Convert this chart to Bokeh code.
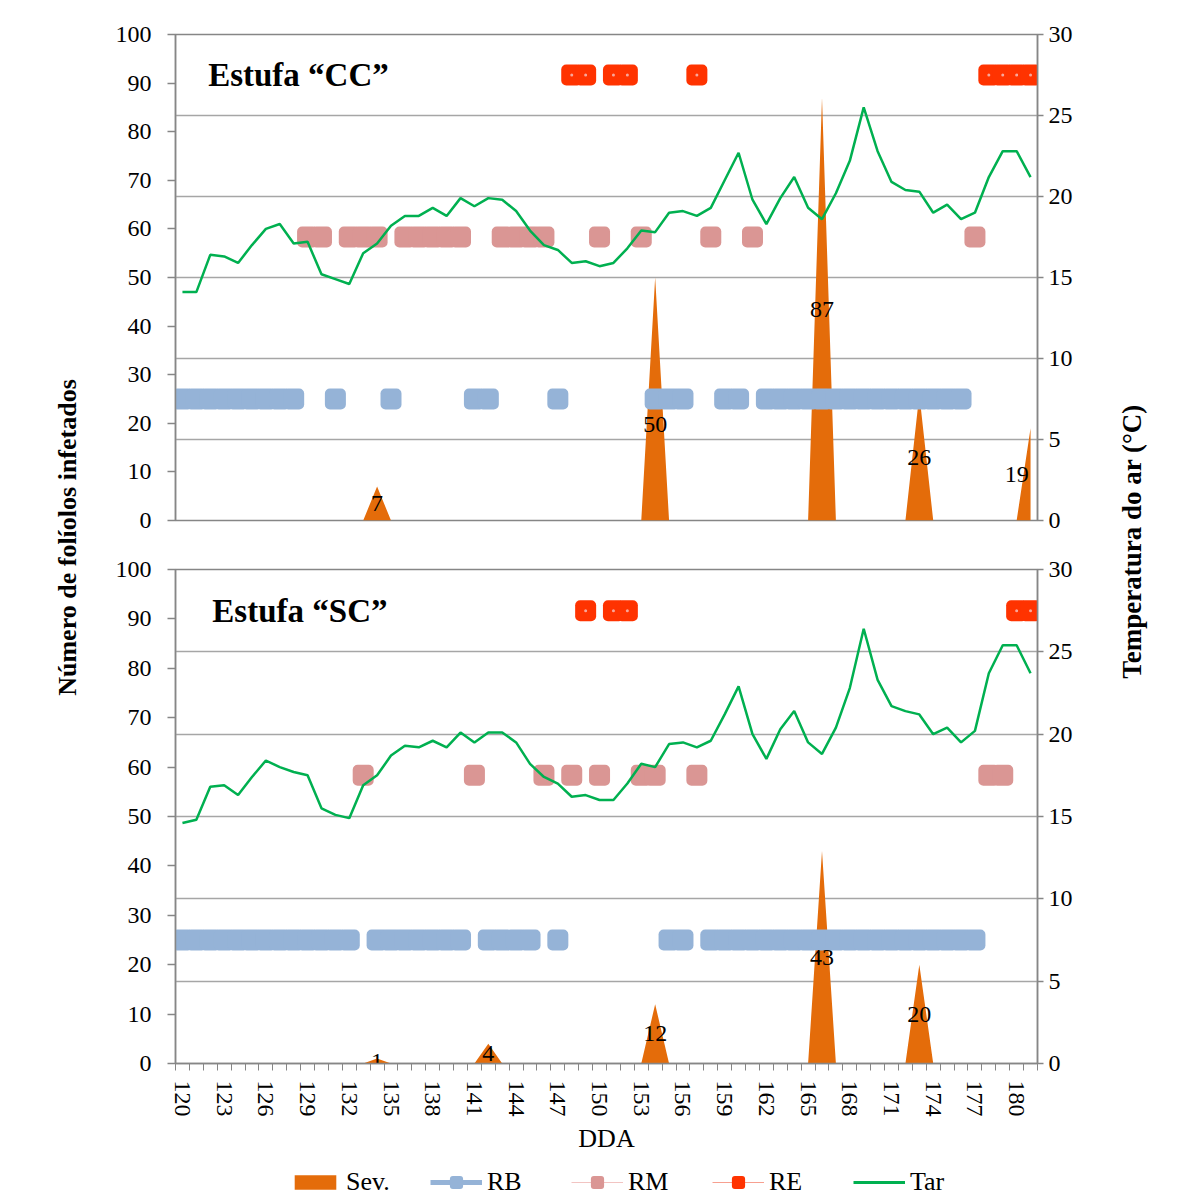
import math
from bokeh.plotting import figure
from bokeh.models import Range1d, LinearAxis, FixedTicker, Grid, Label, Legend, LegendItem
from bokeh.models.glyphs import Rect
from bokeh.layouts import row, column
from bokeh.embed import file_html
from bokeh.resources import INLINE
from bokeh.core.properties import value

# ---------------- data ----------------
days = list(range(120, 182))
tick_days = list(range(120, 181, 3))

cc_tar = [14.1, 14.1, 16.4, 16.3, 15.9, 17.0, 18.0, 18.3, 17.1, 17.2,
          15.2, 14.9, 14.6, 16.5, 17.1, 18.2, 18.8, 18.8, 19.3, 18.8,
          19.9, 19.4, 19.9, 19.8, 19.1, 17.9, 17.0, 16.7, 15.9, 16.0,
          15.7, 15.9, 16.8, 17.9, 17.8, 19.0, 19.1, 18.8, 19.3, 21.0,
          22.7, 19.8, 18.3, 19.9, 21.2, 19.3, 18.6, 20.2, 22.2, 25.5,
          22.8, 20.9, 20.4, 20.3, 19.0, 19.5, 18.6, 19.0, 21.2, 22.8,
          22.8, 21.2]
sc_tar = [14.6, 14.8, 16.8, 16.9, 16.3, 17.4, 18.4, 18.0, 17.7, 17.5,
          15.5, 15.1, 14.9, 16.9, 17.5, 18.7, 19.3, 19.2, 19.6, 19.2,
          20.1, 19.5, 20.1, 20.1, 19.5, 18.2, 17.4, 17.0, 16.2, 16.3,
          16.0, 16.0, 17.0, 18.2, 18.0, 19.4, 19.5, 19.2, 19.6, 21.2,
          22.9, 20.0, 18.5, 20.3, 21.4, 19.5, 18.8, 20.4, 22.8, 26.4,
          23.3, 21.7, 21.4, 21.2, 20.0, 20.4, 19.5, 20.2, 23.7, 25.4,
          25.4, 23.7]

cc_sev_days = [134, 154, 166, 173, 181]
cc_sev_vals = [7, 50, 87, 26, 19]
sc_sev_days = [134, 142, 154, 166, 173]
sc_sev_vals = [1, 4, 12, 43, 20]

cc_rb_days = list(range(120, 129)) + [131, 135, 141, 142, 147, 154, 155, 156, 159, 160] + list(range(162, 177))
cc_rm_days = [129, 130, 132, 133, 134, 136, 137, 138, 139, 140, 143, 144, 145, 146, 150, 153, 158, 161, 177]
cc_re_days = [148, 149, 151, 152, 157, 178, 179, 180, 181]

sc_rb_days = list(range(120, 133)) + list(range(134, 141)) + [142, 143, 144, 145, 147, 155, 156] + list(range(158, 178))
sc_rm_days = [133, 141, 146, 148, 150, 153, 154, 157, 178, 179]
sc_re_days = [149, 151, 152, 180, 181]

# class levels on the temperature axis
rb_level = 7.5
rm_level = 17.5
re_level = 27.5

# ---------------- styles ----------------
SERIF = "Liberation Serif"
C_SEV = "#E46C0A"
C_RB = "#95B3D7"
C_RM = "#DA9694"
C_RE = "#FF3300"
C_RE_DOT = "#F8A79A"
C_TAR = "#00B050"
C_AX = "#868686"
C_GRID = "#A6A6A6"

FW = 862
ML, MR = 75, 50
HAS_RADIUS = "border_radius" in Rect.properties()


def style_yaxis(ax, standoff):
    ax.axis_line_color = C_AX
    ax.axis_line_width = 1.5
    ax.major_tick_line_color = C_AX
    ax.major_tick_line_width = 1.5
    ax.major_tick_out = 8
    ax.major_tick_in = 0
    ax.minor_tick_line_color = None
    ax.major_label_text_font = SERIF
    ax.major_label_text_font_size = "24px"
    ax.major_label_text_color = "black"
    ax.major_label_standoff = standoff


def rounded_marks(p, ds, level, color, range_name="t"):
    ys = [level] * len(ds)
    if HAS_RADIUS:
        p.rect(x=ds, y=ys, width=21, height=21, width_units="screen", height_units="screen",
               y_range_name=range_name, fill_color=color, line_color=None, border_radius=5)
    else:
        p.scatter(x=ds, y=ys, y_range_name=range_name, marker="square", size=13,
                  fill_color=color, line_color=color, line_width=8, line_join="round")


def panel(tar, sev_days, sev_vals, rb, rm, re_, title, title_x, label_pos, bottom):
    fh = 494 if bottom else 486
    p = figure(frame_width=FW, frame_height=fh,
               x_range=Range1d(119.5, 181.5), y_range=Range1d(0, 100),
               min_border_left=ML, min_border_right=MR,
               min_border_top=24 if bottom else 34,
               min_border_bottom=96 if bottom else 25,
               x_axis_location="below" if bottom else None,
               y_axis_location="left",
               title=None, output_backend="svg", toolbar_location=None,
               outline_line_color=C_AX, outline_line_width=1.5,
               background_fill_color="white", border_fill_color="white")
    p.xgrid.visible = False
    p.ygrid.visible = False
    p.yaxis.ticker = FixedTicker(ticks=list(range(0, 101, 10)))
    style_yaxis(p.yaxis[0], 16)

    p.extra_y_ranges = {"t": Range1d(0, 30)}
    ax_r = LinearAxis(y_range_name="t", ticker=FixedTicker(ticks=list(range(0, 31, 5))))
    style_yaxis(ax_r, 5)
    ax_r.major_tick_out = 6
    p.add_layout(ax_r, "right")

    g = Grid(dimension=1, y_range_name="t", ticker=FixedTicker(ticks=[5, 10, 15, 20, 25, 30]),
             grid_line_color=C_GRID, grid_line_width=1.5)
    p.add_layout(g)

    if bottom:
        xa = p.xaxis[0]
        xa.ticker = FixedTicker(ticks=tick_days, minor_ticks=[d - 0.5 for d in days] + [181.5])
        xa.axis_line_color = C_AX
        xa.axis_line_width = 1.5
        xa.major_tick_out = 0
        xa.major_tick_in = 0
        xa.minor_tick_out = 7
        xa.minor_tick_in = 0
        xa.minor_tick_line_color = C_AX
        xa.minor_tick_line_width = 1
        xa.major_label_orientation = "vertical"
        xa.major_label_text_font = SERIF
        xa.major_label_text_font_size = "24px"
        xa.major_label_text_color = "black"
        xa.major_label_standoff = 10
        xa.axis_label = "DDA"
        xa.axis_label_text_font = SERIF
        xa.axis_label_text_font_size = "26px"
        xa.axis_label_text_font_style = "normal"
        xa.axis_label_text_color = "black"
        xa.axis_label_standoff = 4

    # severity area
    sev_map = dict(zip(sev_days, sev_vals))
    sev_full = [sev_map.get(d, 0) for d in days]
    p.varea(x=days, y1=[0] * len(days), y2=sev_full, fill_color=C_SEV, fill_alpha=1)

    # class markers
    rounded_marks(p, rb, rb_level, C_RB)
    rounded_marks(p, rm, rm_level, C_RM)
    rounded_marks(p, re_, re_level, C_RE)
    p.scatter(x=re_, y=[re_level] * len(re_), y_range_name="t", marker="circle", size=3,
              fill_color=C_RE_DOT, line_color=None)

    # temperature
    p.line(x=days, y=tar, y_range_name="t", line_color=C_TAR, line_width=2.5)

    # data labels
    lx, ly = [], []
    for d, v in zip(sev_days, sev_vals):
        x, y = label_pos.get(d, (d, v / 2))
        lx.append(x)
        ly.append(y)
    p.text(x=lx, y=ly, text=[str(v) for v in sev_vals], text_font=value(SERIF),
           text_font_size="24px", text_color="black", text_align="center", text_baseline="middle")

    p.add_layout(Label(x=title_x, y=91.6, text=title, text_font=SERIF, text_font_style="bold",
                       text_font_size="33px", text_color="black", text_baseline="middle",
                       text_align="left"))
    return p


top = panel(cc_tar, cc_sev_days, cc_sev_vals, cc_rb_days, cc_rm_days, cc_re_days,
            "Estufa \u201cCC\u201d", 121.85, {154: (154, 19.7), 181: (180.0, 9.5)}, False)
bot = panel(sc_tar, sc_sev_days, sc_sev_vals, sc_rb_days, sc_rm_days, sc_re_days,
            "Estufa \u201cSC\u201d", 122.15, {}, True)

# ---------------- legend strip ----------------
LH = 36
lf = figure(frame_width=FW, frame_height=LH, min_border_left=ML, min_border_right=MR,
            min_border_top=0, min_border_bottom=0, x_range=Range1d(0, 1), y_range=Range1d(0, 1),
            x_axis_location=None, y_axis_location=None, title=None, outline_line_color=None,
            output_backend="svg", toolbar_location=None)
lf.xgrid.visible = False
lf.ygrid.visible = False
r_sev = lf.varea(x=[-5, -4], y1=[0, 0], y2=[1, 1], fill_color=C_SEV)
r_rb_l = lf.line(x=[-5, -4], y=[0, 0], line_color=C_RB, line_width=5)
r_rb_m = lf.scatter(x=[-5], y=[0], marker="square", size=13, fill_color=C_RB, line_color=C_RB,
                    line_width=6, line_join="round")
r_rm_l = lf.line(x=[-5, -4], y=[0, 0], line_color="#F2C4C2", line_width=1)
r_rm_m = lf.scatter(x=[-5], y=[0], marker="square", size=13, fill_color=C_RM, line_color=C_RM,
                    line_width=6, line_join="round")
r_re_l = lf.line(x=[-5, -4], y=[0, 0], line_color="#F7A090", line_width=1)
r_re_m = lf.scatter(x=[-5], y=[0], marker="square", size=13, fill_color=C_RE, line_color=C_RE,
                    line_width=6, line_join="round")
r_tar = lf.line(x=[-5, -4], y=[0, 0], line_color=C_TAR, line_width=3)
leg = Legend(items=[LegendItem(label="Sev.", renderers=[r_sev]),
                    LegendItem(label="RB", renderers=[r_rb_l, r_rb_m]),
                    LegendItem(label="RM", renderers=[r_rm_l, r_rm_m]),
                    LegendItem(label="RE", renderers=[r_re_l, r_re_m]),
                    LegendItem(label="Tar", renderers=[r_tar])],
             orientation="horizontal", location=(114, -2),
             glyph_width=52, glyph_height=18, label_standoff=5, label_width=70, spacing=14,
             label_text_font=SERIF, label_text_font_size="26px", label_text_color="black",
             padding=0, margin=0, border_line_color=None, background_fill_alpha=0)
lf.add_layout(leg)

# ---------------- axis titles ----------------
TOTAL_H = 545 + 614 + LH
LW = 100
RW = 96
left = figure(width=LW, height=TOTAL_H, x_range=Range1d(0, LW), y_range=Range1d(0, TOTAL_H),
              min_border=0, x_axis_location=None, y_axis_location=None, title=None,
              outline_line_color=None, output_backend="svg", toolbar_location=None)
left.xgrid.visible = False
left.ygrid.visible = False
left.add_layout(Label(x=67, y=TOTAL_H - 537, text="Número de folíolos infetados", angle=math.pi / 2,
                      text_align="center", text_baseline="middle", text_font=SERIF,
                      text_font_style="bold", text_font_size="26px", text_color="black"))

right = figure(width=RW, height=TOTAL_H, x_range=Range1d(0, RW), y_range=Range1d(0, TOTAL_H),
               min_border=0, x_axis_location=None, y_axis_location=None, title=None,
               outline_line_color=None, output_backend="svg", toolbar_location=None)
right.xgrid.visible = False
right.ygrid.visible = False
right.add_layout(Label(x=44, y=TOTAL_H - 541, text="Temperatura do ar (°C)", angle=math.pi / 2,
                       text_align="center", text_baseline="middle", text_font=SERIF,
                       text_font_style="bold", text_font_size="27px", text_color="black"))

layout = row(left, column(top, bot, lf), right)
open("out.html", "w").write(file_html(layout, INLINE))
